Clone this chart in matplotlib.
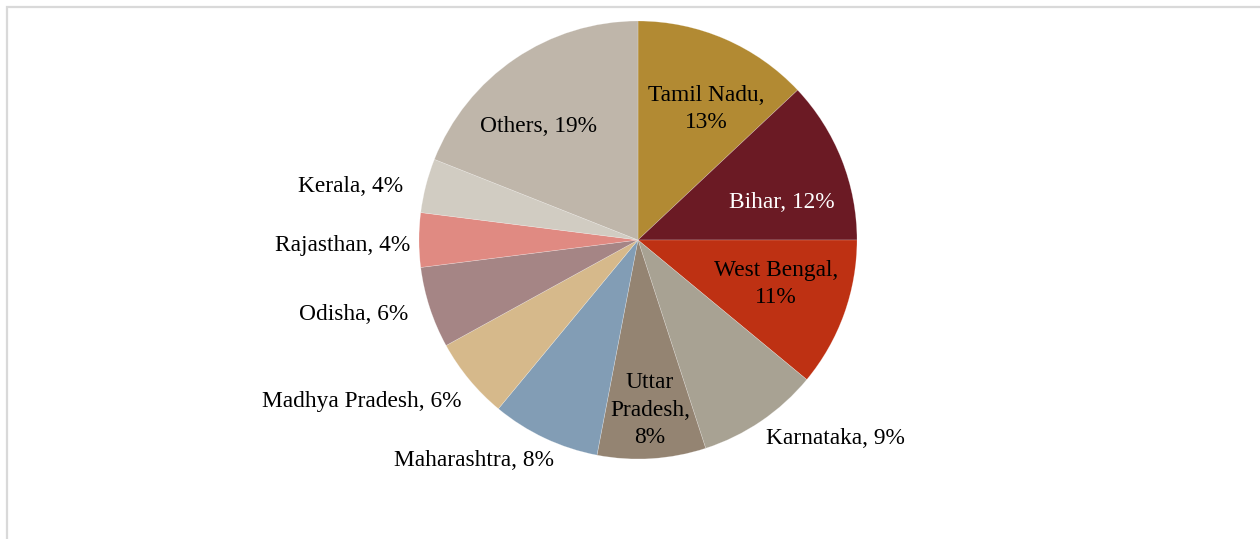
import matplotlib
matplotlib.use("Agg")
import matplotlib.pyplot as plt
from matplotlib.patches import Rectangle

states = ["Tamil Nadu", "Bihar", "West Bengal", "Karnataka", "Uttar Pradesh",
          "Maharashtra", "Madhya Pradesh", "Odisha", "Rajasthan", "Kerala", "Others"]
shares = [13, 12, 11, 9, 8, 8, 6, 6, 4, 4, 19]
label_texts = ["Tamil Nadu,\n13%", "Bihar, 12%", "West Bengal,\n11%", "Karnataka, 9%",
               "Uttar\nPradesh,\n8%", "Maharashtra, 8%", "Madhya Pradesh, 6%",
               "Odisha, 6%", "Rajasthan, 4%", "Kerala, 4%", "Others, 19%"]
colors = ["#B28A33", "#6B1A24", "#BE3113", "#A8A293", "#948472", "#829DB5",
          "#D6B98B", "#A58585", "#E08A82", "#D1CCC2", "#BFB6AA"]
text_colors = ["black", "white", "black", "black", "black", "black",
               "black", "black", "black", "black", "black"]

# label centre positions in pixels (layout)
label_px = [(706, 109), (782, 203), (776, 284), (835, 439), (650, 410),
            (474, 461), (362, 401), (354, 315), (343, 245), (351, 187), (538, 127)]

W, H = 1260, 539
fig = plt.figure(figsize=(W / 100, H / 100), dpi=100)
plt.rcParams['font.family'] = ['Liberation Serif', 'DejaVu Serif']

# frame
fig.patches.append(Rectangle((7 / W, -0.1), 1.2, 1.1 - 7 / H, transform=fig.transFigure,
                             fill=False, edgecolor="#D9D9D9", linewidth=1.6))

cx, cy, r = 638, 240, 219
ax = fig.add_axes([(cx - r) / W, (H - cy - r) / H, 2 * r / W, 2 * r / H])
ax.pie(shares, colors=colors, startangle=90, counterclock=False, radius=1,
       wedgeprops=dict(linewidth=0.4, edgecolor=(1, 1, 1, 0.35)))
ax.set_xlim(-1, 1)
ax.set_ylim(-1, 1)
ax.set_aspect("auto")
ax.axis("off")

for txt, (px, py), tc in zip(label_texts, label_px, text_colors):
    ax.text((px - cx) / r, (cy - py) / r, txt, ha="center", va="center",
            fontsize=16.8, color=tc, linespacing=1.38, clip_on=False)

fig.savefig("out.png", dpi=100)
